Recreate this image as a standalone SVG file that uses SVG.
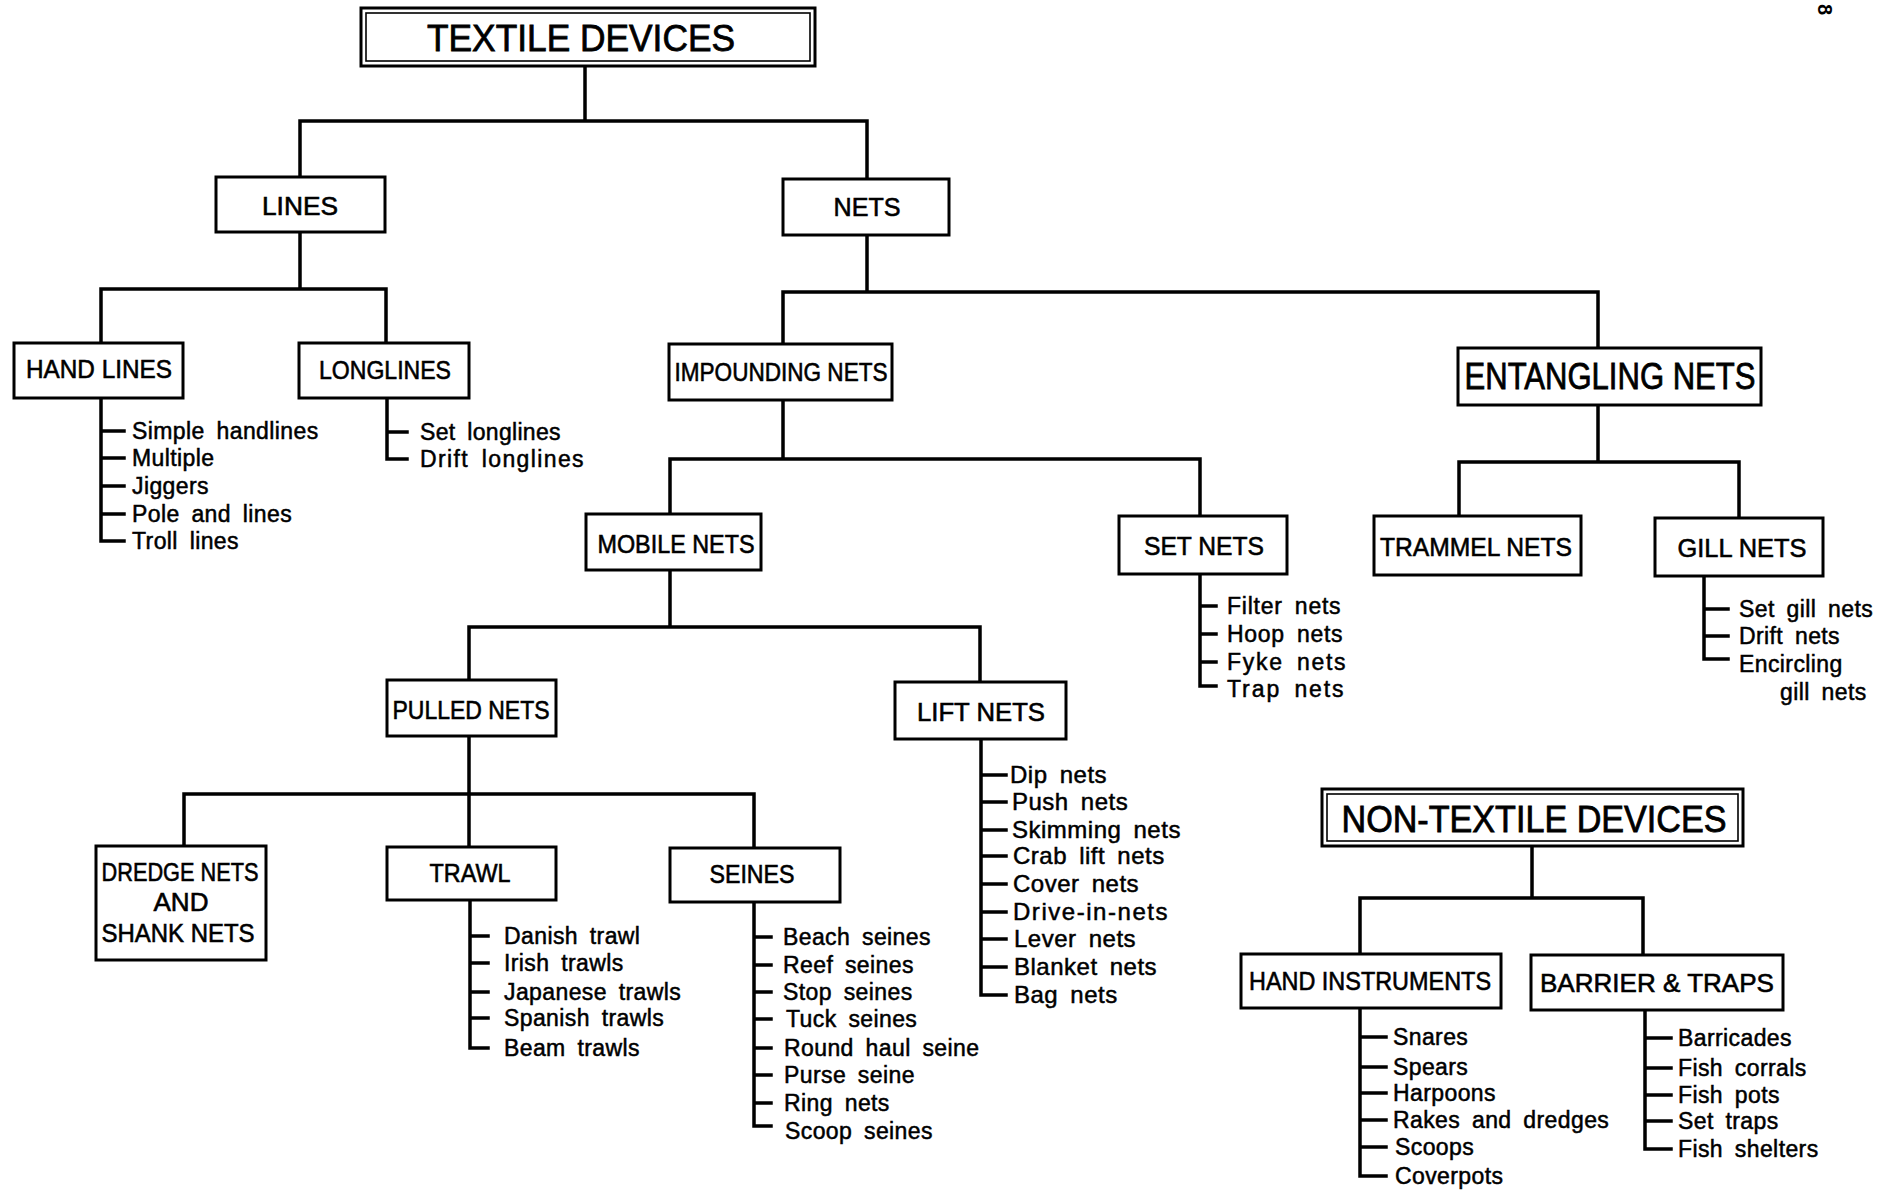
<svg xmlns="http://www.w3.org/2000/svg" width="1886" height="1198" viewBox="0 0 1886 1198">
<style>
.box{fill:#fff;stroke:#000;stroke-width:3}
.inner{fill:none;stroke:#000;stroke-width:1.6}
.c{fill:none;stroke:#000;stroke-width:3.5;stroke-linecap:square;stroke-linejoin:miter}
.lbl{font-family:"Liberation Sans",Arial,sans-serif;font-size:26px;text-anchor:middle;fill:#000;stroke:#000;stroke-width:0.6}
.big{font-size:37px;stroke-width:0.8}
.it{font-family:"Liberation Sans",Arial,sans-serif;font-size:23px;fill:#000;stroke:#000;stroke-width:0.5;letter-spacing:0.4px;word-spacing:5px}
.w{font-size:24px;letter-spacing:0.5px}
</style>
<rect width="1886" height="1198" fill="#fff"/>
<g id="connectors">
<path class="c" d="M585 66V121M300 177V121H867V179"/>
<path class="c" d="M300 232V289M101 343V289H386V343"/>
<path class="c" d="M867 235V292M783 344V292H1598V348"/>
<path class="c" d="M783 400V459M670 514V459H1200V516"/>
<path class="c" d="M670 570V627M469 680V627H980V682"/>
<path class="c" d="M469 736V794M184 846V794H754V848M469 794V847"/>
<path class="c" d="M1598 405V462M1459 516V462H1739V518"/>
<path class="c" d="M1532 846V898M1360 954V898H1643V955"/>
<path class="c" d="M101 398V541H124M101 431H124M101 458H124M101 486H124M101 514H124"/>
<path class="c" d="M387 398V459H407M387 432H407"/>
<path class="c" d="M1200 574V686H1216M1200 606H1216M1200 634H1216M1200 662H1216"/>
<path class="c" d="M981 739V995H1006M981 775H1006M981 802H1006M981 830H1006M981 856H1006M981 884H1006M981 912H1006M981 939H1006M981 967H1006"/>
<path class="c" d="M470 900V1048H488M470 936H488M470 963H488M470 992H488M470 1018H488"/>
<path class="c" d="M754 902V1126H771M754 937H771M754 965H771M754 992H771M754 1019H771M754 1048H771M754 1075H771M754 1103H771"/>
<path class="c" d="M1704 576V659H1728M1704 609H1728M1704 636H1728"/>
<path class="c" d="M1360 1008V1176H1386M1360 1037H1386M1360 1067H1386M1360 1093H1386M1360 1120H1386M1360 1147H1386"/>
<path class="c" d="M1645 1010V1149H1671M1645 1038H1671M1645 1068H1671M1645 1095H1671M1645 1121H1671"/>
</g>
<g id="textile-devices">
<rect class="box" x="361" y="8" width="454" height="58"/>
<rect class="inner" x="366" y="13" width="444" height="48"/>
<text class="lbl big" x="581" y="51" textLength="308" lengthAdjust="spacingAndGlyphs">TEXTILE DEVICES</text>
</g>
<g id="lines"><rect class="box" x="216" y="177" width="169" height="55"/><text class="lbl" x="300" y="215" textLength="76" lengthAdjust="spacingAndGlyphs">LINES</text></g>
<g id="nets"><rect class="box" x="783" y="179" width="166" height="56"/><text class="lbl" x="867" y="216" textLength="67" lengthAdjust="spacingAndGlyphs">NETS</text></g>
<g id="hand-lines"><rect class="box" x="14" y="343" width="169" height="55"/><text class="lbl" x="99" y="378" textLength="146" lengthAdjust="spacingAndGlyphs">HAND LINES</text>
<text class="it" x="132" y="439">Simple handlines</text>
<text class="it" x="132" y="466">Multiple</text>
<text class="it" x="132" y="494">Jiggers</text>
<text class="it" x="132" y="522">Pole and lines</text>
<text class="it" x="132" y="549">Troll lines</text></g>
<g id="longlines"><rect class="box" x="299" y="343" width="170" height="55"/><text class="lbl" x="385" y="379" textLength="132" lengthAdjust="spacingAndGlyphs">LONGLINES</text>
<text class="it" x="420" y="440" textLength="141">Set longlines</text>
<text class="it" x="420" y="467" textLength="164">Drift longlines</text></g>
<g id="impounding-nets"><rect class="box" x="669" y="344" width="223" height="56"/><text class="lbl" x="781" y="381" textLength="213" lengthAdjust="spacingAndGlyphs">IMPOUNDING NETS</text></g>
<g id="entangling-nets"><rect class="box" x="1458" y="348" width="303" height="57"/><text class="lbl big" x="1610" y="389" textLength="291" lengthAdjust="spacingAndGlyphs">ENTANGLING NETS</text></g>
<g id="mobile-nets"><rect class="box" x="586" y="514" width="175" height="56"/><text class="lbl" x="676" y="553" textLength="157" lengthAdjust="spacingAndGlyphs">MOBILE NETS</text></g>
<g id="set-nets"><rect class="box" x="1119" y="516" width="168" height="58"/><text class="lbl" x="1204" y="555" textLength="120" lengthAdjust="spacingAndGlyphs">SET NETS</text>
<text class="it" x="1227" y="614" textLength="114">Filter nets</text>
<text class="it" x="1227" y="642" textLength="116">Hoop nets</text>
<text class="it" x="1227" y="670" textLength="119">Fyke nets</text>
<text class="it" x="1227" y="697" textLength="117">Trap nets</text></g>
<g id="trammel-nets"><rect class="box" x="1374" y="516" width="207" height="59"/><text class="lbl" x="1476" y="556" textLength="192" lengthAdjust="spacingAndGlyphs">TRAMMEL NETS</text></g>
<g id="gill-nets"><rect class="box" x="1655" y="518" width="168" height="58"/><text class="lbl" x="1742" y="557" textLength="129" lengthAdjust="spacingAndGlyphs">GILL NETS</text>
<text class="it" x="1739" y="617">Set gill nets</text>
<text class="it" x="1739" y="644">Drift nets</text>
<text class="it" x="1739" y="672">Encircling</text>
<text class="it" x="1780" y="700">gill nets</text></g>
<g id="pulled-nets"><rect class="box" x="387" y="680" width="169" height="56"/><text class="lbl" x="471" y="719" textLength="157" lengthAdjust="spacingAndGlyphs">PULLED NETS</text></g>
<g id="lift-nets"><rect class="box" x="895" y="682" width="171" height="57"/><text class="lbl" x="981" y="721" textLength="128" lengthAdjust="spacingAndGlyphs">LIFT NETS</text>
<text class="it w" x="1010" y="783">Dip nets</text>
<text class="it w" x="1012" y="810">Push nets</text>
<text class="it w" x="1012" y="838">Skimming nets</text>
<text class="it w" x="1013" y="864">Crab lift nets</text>
<text class="it w" x="1013" y="892">Cover nets</text>
<text class="it w" x="1013" y="920" textLength="155">Drive-in-nets</text>
<text class="it w" x="1014" y="947">Lever nets</text>
<text class="it w" x="1014" y="975">Blanket nets</text>
<text class="it w" x="1014" y="1003">Bag nets</text></g>
<g id="dredge-nets"><rect class="box" x="96" y="846" width="170" height="114"/>
<text class="lbl" x="180" y="881" textLength="157" lengthAdjust="spacingAndGlyphs">DREDGE NETS</text>
<text class="lbl" x="181" y="911" textLength="55" lengthAdjust="spacingAndGlyphs">AND</text>
<text class="lbl" x="178" y="942" textLength="153" lengthAdjust="spacingAndGlyphs">SHANK NETS</text></g>
<g id="trawl"><rect class="box" x="387" y="847" width="169" height="53"/><text class="lbl" x="470" y="882" textLength="81" lengthAdjust="spacingAndGlyphs">TRAWL</text>
<text class="it" x="504" y="944">Danish trawl</text>
<text class="it" x="504" y="971">Irish trawls</text>
<text class="it" x="504" y="1000">Japanese trawls</text>
<text class="it" x="504" y="1026">Spanish trawls</text>
<text class="it" x="504" y="1056">Beam trawls</text></g>
<g id="seines"><rect class="box" x="670" y="848" width="170" height="54"/><text class="lbl" x="752" y="883" textLength="85" lengthAdjust="spacingAndGlyphs">SEINES</text>
<text class="it" x="783" y="945">Beach seines</text>
<text class="it" x="783" y="973">Reef seines</text>
<text class="it" x="783" y="1000">Stop seines</text>
<text class="it" x="786" y="1027">Tuck seines</text>
<text class="it" x="784" y="1056">Round haul seine</text>
<text class="it" x="784" y="1083">Purse seine</text>
<text class="it" x="784" y="1111">Ring nets</text>
<text class="it" x="785" y="1139">Scoop seines</text></g>
<g id="non-textile-devices">
<rect class="box" x="1322" y="789" width="421" height="57"/>
<rect class="inner" x="1327" y="794" width="411" height="47"/>
<text class="lbl big" x="1534" y="832" textLength="385" lengthAdjust="spacingAndGlyphs">NON-TEXTILE DEVICES</text></g>
<g id="hand-instruments"><rect class="box" x="1241" y="954" width="260" height="54"/><text class="lbl" x="1370" y="990" textLength="242" lengthAdjust="spacingAndGlyphs">HAND INSTRUMENTS</text>
<text class="it" x="1393" y="1045">Snares</text>
<text class="it" x="1393" y="1075">Spears</text>
<text class="it" x="1393" y="1101">Harpoons</text>
<text class="it" x="1393" y="1128">Rakes and dredges</text>
<text class="it" x="1395" y="1155">Scoops</text>
<text class="it" x="1395" y="1184">Coverpots</text></g>
<g id="barrier-traps"><rect class="box" x="1531" y="955" width="252" height="55"/><text class="lbl" x="1657" y="992" textLength="234" lengthAdjust="spacingAndGlyphs">BARRIER &amp; TRAPS</text>
<text class="it" x="1678" y="1046">Barricades</text>
<text class="it" x="1678" y="1076">Fish corrals</text>
<text class="it" x="1678" y="1103">Fish pots</text>
<text class="it" x="1678" y="1129">Set traps</text>
<text class="it" x="1678" y="1157">Fish shelters</text></g>
<text x="1818" y="4" transform="rotate(90 1818 4)" font-family="Liberation Sans, Arial, sans-serif" font-size="20" font-weight="bold">8</text>
</svg>
